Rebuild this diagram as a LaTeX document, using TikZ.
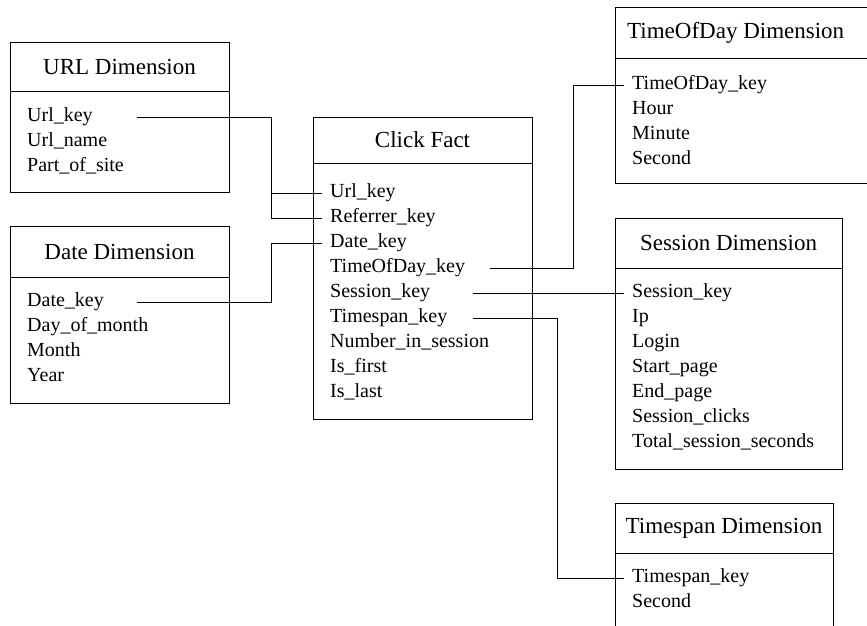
\documentclass[tikz,border=0pt]{standalone}
\usepackage{fontspec}
\setmainfont{Liberation Serif}
\usetikzlibrary{positioning}

\tikzset{
  cell/.style={draw, line width=0.8pt, inner sep=0pt, outer sep=0pt, anchor=north west},
  titlecell/.style={cell, font=\fontsize{23}{27}\selectfont},
  row/.style={anchor=west, inner xsep=8pt, inner ysep=0pt, text height=14pt, text depth=5pt, font=\fontsize{20}{24}\selectfont},
  link/.style={line width=0.8pt}
}

\begin{document}
\begin{tikzpicture}[x=1pt, y=-1pt]

\useasboundingbox (0,0) rectangle (867,626);

% URL dimension
\node[titlecell, minimum width=219pt, minimum height=49pt] (urlt) at (10,42) {URL Dimension};
\node[cell, minimum width=219pt, minimum height=101pt] (urlb) at (urlt.south west) {};
\foreach \t [count=\i] in {Url\_key, Url\_name, Part\_of\_site}
  \node[row] (url-\i) at (19,92+25*\i) {\t};

% Date dimension
\node[titlecell, minimum width=219pt, minimum height=51pt] (datet) at (10,226) {Date Dimension};
\node[cell, minimum width=219pt, minimum height=126pt] (dateb) at (datet.south west) {};
\foreach \t [count=\i] in {Date\_key, Day\_of\_month, Month, Year}
  \node[row] (date-\i) at (19,277+25*\i) {\t};

% Click fact
\node[titlecell, minimum width=219pt, minimum height=46pt] (factt) at (313,117) {Click Fact};
\node[cell, minimum width=219pt, minimum height=256pt] (factb) at (factt.south west) {};
\foreach \t [count=\i] in {Url\_key, Referrer\_key, Date\_key, TimeOfDay\_key, Session\_key,
    Timespan\_key, Number\_in\_session, Is\_first, Is\_last}
  \node[row] (fact-\i) at (322,168+25*\i) {\t};

% TimeOfDay dimension (runs past the right edge)
\node[titlecell, minimum width=290pt, minimum height=51pt] (todt) at (615,7) {};
\node[anchor=west, inner xsep=12pt, inner ysep=0pt, font=\fontsize{23}{27}\selectfont] (todtitle) at (todt.west) {TimeOfDay Dimension};
\node[cell, minimum width=290pt, minimum height=125pt] (todb) at (todt.south west) {};
\foreach \t [count=\i] in {TimeOfDay\_key, Hour, Minute, Second}
  \node[row] (tod-\i) at (624,60+25*\i) {\t};

% Session dimension
\node[titlecell, minimum width=227pt, minimum height=50pt] (sesst) at (615,218) {Session Dimension};
\node[cell, minimum width=227pt, minimum height=201pt] (sessb) at (sesst.south west) {};
\foreach \t [count=\i] in {Session\_key, Ip, Login, Start\_page, End\_page, Session\_clicks,
    Total\_session\_seconds}
  \node[row] (sess-\i) at (624,268+25*\i) {\t};

% Timespan dimension (runs past the bottom edge)
\node[titlecell, minimum width=218pt, minimum height=50pt] (spant) at (615,503) {Timespan Dimension};
\node[cell, minimum width=218pt, minimum height=100pt] (spanb) at (spant.south west) {};
\foreach \t [count=\i] in {Timespan\_key, Second}
  \node[row] (span-\i) at (624,553+25*\i) {\t};

% Bend points of the key links
\coordinate (jleft) at (271,0);
\coordinate (jtod) at (573,0);
\coordinate (jspan) at (557,0);

% Key links
\draw[link] ([xshift=118pt]url-1.west) -- (jleft |- url-1) |- (fact-2.west);
\draw[link] (jleft |- fact-1) -- (fact-1.west);
\draw[link] ([xshift=118pt]date-1.west) -- (jleft |- date-1) |- (fact-3.west);
\draw[link] ([xshift=168pt]fact-4.west) -- (jtod |- fact-4) |- (tod-1.west);
\draw[link] ([xshift=151pt]fact-5.west) -- (sess-1.west);
\draw[link] ([xshift=151pt]fact-6.west) -- (jspan |- fact-6) |- (span-1.west);

\end{tikzpicture}
\end{document}
